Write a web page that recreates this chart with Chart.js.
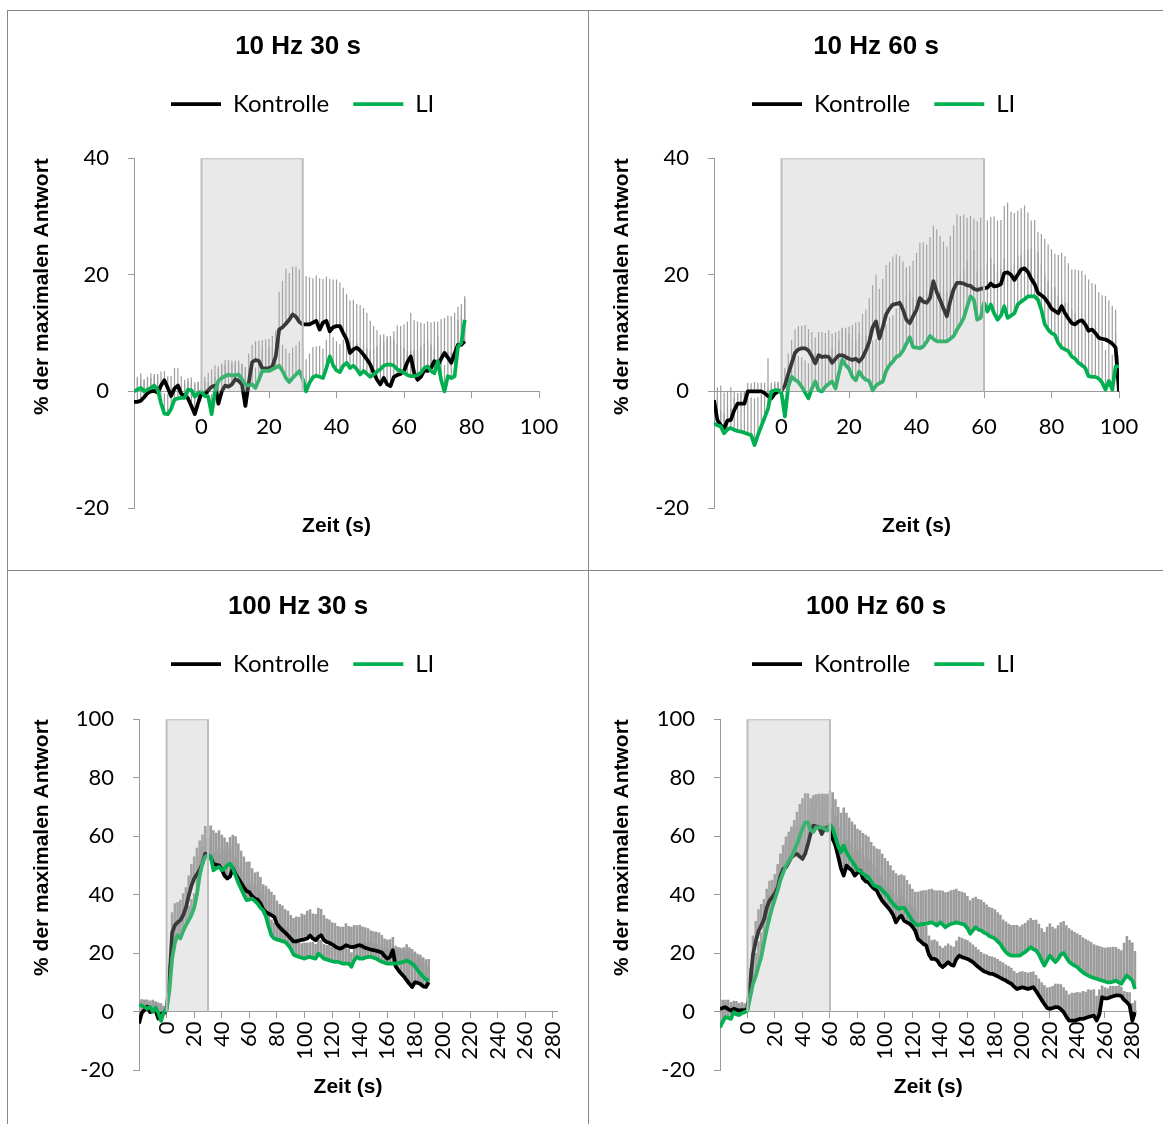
<!DOCTYPE html>
<html lang="de">
<head>
<meta charset="utf-8">
<title>Antwort Kontrolle vs. LI</title>
<script src="https://cdn.jsdelivr.net/npm/chart.js@4.4.1/dist/chart.umd.min.js"></script>
<style>
  html, body { margin: 0; padding: 0; background: #fff; }
  #sheet { position: relative; width: 1163px; height: 1124px; overflow: hidden; }
  .cell { position: absolute; border-left: 1px solid #878787; border-top: 1px solid #878787; }
  .cell canvas { display: block; }
</style>
</head>
<body>
<div id="sheet">
  <div class="cell" style="left:7px; top:10px;"><canvas id="hz10s30" width="580" height="559"></canvas></div>
  <div class="cell" style="left:588px; top:10px;"><canvas id="hz10s60" width="574" height="559"></canvas></div>
  <div class="cell" style="left:7px; top:570px;"><canvas id="hz100s30" width="580" height="553"></canvas></div>
  <div class="cell" style="left:588px; top:570px;"><canvas id="hz100s60" width="574" height="553"></canvas></div>
</div>
<script>
// ---- 10 Hz, 30 s (1 s bins from -20 s) ----
const t1Start = -20, t1Step = 1;
const stim1 = [0, 30];
const kon1 = [
  -1.8,-1.8,-1.6,-1.0,-0.3,0.0,0.1,-0.2,1.0,1.9,
  0.6,-0.8,0.5,1.0,-0.4,-0.8,-1.2,-2.5,-3.9,-2.0,
  -0.3,-0.5,0.2,0.8,1.0,-2.1,0.0,1.0,0.8,1.2,
  2.1,1.8,1.2,-2.5,1.5,5.0,5.4,5.2,4.0,3.9,
  4.0,4.3,6.0,10.6,11.0,11.6,12.3,13.2,12.8,11.9,
  11.5,11.5,11.5,11.8,12.1,10.6,11.8,12.1,10.3,11.0,
  11.2,11.2,10.0,8.9,6.6,7.2,7.5,7.0,6.3,5.5,
  4.6,3.2,2.0,1.2,2.3,1.2,0.9,2.5,2.8,3.0,
  3.5,5.0,6.0,3.2,2.0,2.5,3.6,3.5,4.0,5.2,
  4.4,5.6,6.6,5.8,4.9,6.5,8.0,8.0,8.6
];
const li1 = [
  0.0,0.3,0.6,0.0,0.3,0.6,1.0,0.3,-2.0,-3.8,
  -3.9,-3.0,-1.4,-1.2,-1.1,-1.1,0.3,0.2,-0.9,-0.3,
  0.0,-0.8,-0.9,-3.9,0.0,1.8,2.3,2.6,2.9,2.7,
  2.8,2.9,2.1,1.2,1.0,1.2,0.6,2.0,3.5,3.5,
  3.5,3.8,4.1,4.4,3.5,2.3,1.6,2.3,2.9,3.5,
  2.1,0.0,1.5,2.4,2.7,2.5,2.3,4.0,6.0,4.5,
  3.6,3.3,4.4,4.9,4.0,4.4,3.8,2.9,3.5,3.0,
  2.5,2.9,3.4,3.8,4.4,4.6,4.6,4.4,3.8,3.5,
  3.2,2.8,2.6,2.6,2.8,3.2,4.0,4.3,3.5,3.1,
  5.2,2.0,0.0,2.6,2.3,2.6,7.7,8.3,12.3
];
const konErr1 = [
  3.5,4.0,3.8,3.0,2.5,2.3,2.6,3.2,2.4,1.6,
  2.0,3.5,3.5,3.0,3.0,2.8,3.0,4.0,5.0,3.5,
  3.0,3.0,3.0,3.0,3.5,6.0,4.5,3.5,3.8,3.5,
  2.8,3.0,3.5,6.5,5.0,3.0,3.2,3.5,4.8,5.0,
  5.0,5.2,4.5,6.5,8.0,9.5,8.0,8.2,8.6,9.0,
  8.0,8.3,8.1,7.6,7.8,8.8,7.5,7.6,9.0,8.2,
  8.0,7.5,7.8,7.8,9.0,8.5,7.5,7.8,8.0,8.0,
  7.5,8.0,8.5,8.5,7.5,8.3,8.6,7.8,8.5,8.2,
  8.0,7.0,7.5,9.0,10.0,9.3,8.0,8.5,7.8,6.8,
  7.6,6.8,6.0,7.2,8.0,7.0,6.5,7.0,7.3
];
const liErr1 = [
  2.0,2.2,2.5,2.0,2.2,2.5,2.0,2.3,3.0,3.5,
  3.5,3.0,2.5,2.2,2.0,2.4,2.0,2.2,2.5,2.0,
  2.0,2.5,2.5,3.5,2.5,2.5,2.5,2.8,2.5,2.6,
  2.5,2.4,2.6,3.0,3.0,3.2,3.5,3.5,3.6,3.8,
  4.0,4.0,4.2,4.5,4.5,5.0,5.0,5.2,5.0,5.0,
  5.2,5.5,5.0,5.2,5.0,5.3,5.0,4.8,4.5,4.8,
  5.0,4.8,4.5,4.6,4.5,4.4,4.5,4.6,4.5,4.4,
  4.5,4.4,4.3,4.5,4.2,4.4,4.3,4.5,4.4,4.2,
  4.3,4.2,4.4,4.5,4.3,4.4,4.2,4.3,4.5,4.3,
  4.2,4.5,4.5,4.2,4.4,4.5,4.6,4.5,4.0
];

// ---- 10 Hz, 60 s (1 s bins from -20 s) ----
const t2Start = -20, t2Step = 1;
const stim2 = [0, 60];
const kon2 = [
  -1.5,-4.9,-5.8,-6.3,-5.0,-4.9,-3.2,-2.1,-2.1,-2.1,
  0.0,0.0,0.0,0.0,0.0,-0.3,-0.8,-1.2,-0.4,0.0,
  0.1,1.0,3.0,4.8,6.6,7.2,7.4,7.4,7.0,6.0,
  4.8,6.2,5.9,6.0,5.9,4.9,5.6,6.2,6.2,5.9,
  5.6,5.4,5.6,5.1,5.8,7.0,8.5,11.0,12.0,9.1,
  11.0,13.2,14.2,14.9,15.0,15.2,14.0,12.3,11.7,12.9,
  14.0,16.0,15.4,15.2,16.0,18.9,17.0,15.7,14.2,12.9,
  15.5,17.5,18.6,18.6,18.5,18.2,18.1,17.6,17.4,17.6,
  17.7,17.8,18.5,18.0,18.1,18.4,20.3,20.4,20.0,19.1,
  20.0,20.9,21.1,20.5,19.3,18.4,16.9,16.5,16.0,15.2,
  14.2,13.8,13.4,14.6,13.4,12.5,11.7,11.5,12.0,12.2,
  11.5,10.4,10.6,10.0,9.2,9.0,8.9,8.6,8.2,7.5,
  0.0
];
const li2 = [
  -5.5,-5.8,-6.0,-7.2,-6.5,-6.3,-6.6,-6.8,-6.9,-7.1,
  -7.3,-7.5,-9.2,-7.5,-6.0,-4.5,-3.0,0.0,0.2,0.2,
  -0.3,-4.3,0.8,2.5,2.0,1.6,0.8,-0.2,-1.2,0.5,
  1.7,0.2,0.0,0.8,1.3,1.7,0.5,3.1,5.4,4.5,
  3.9,2.5,1.9,3.4,2.5,2.0,1.8,0.2,1.0,1.4,
  1.7,3.5,4.5,5.1,5.9,6.2,7.0,8.2,9.3,7.6,
  7.5,7.4,7.7,8.5,9.5,9.0,8.6,8.6,8.6,8.6,
  9.0,9.5,10.6,11.5,12.6,14.5,16.3,15.7,12.3,12.6,
  15.2,13.7,14.9,13.4,12.3,13.0,14.6,12.6,13.0,13.4,
  14.9,15.4,15.8,16.3,16.3,16.3,15.7,14.0,11.5,10.6,
  10.0,9.7,8.3,7.5,7.2,6.9,6.0,5.6,4.9,4.5,
  4.0,2.6,2.5,2.5,2.2,1.5,0.3,1.8,0.3,4.3,
  4.3
];
const konErr2 = [
  1.5,2.0,2.5,2.5,2.0,2.0,2.0,1.8,1.8,2.0,
  1.5,1.4,1.6,1.5,1.5,1.8,6.5,2.0,1.6,1.5,
  2.5,3.0,3.5,4.0,4.0,4.0,3.8,4.0,3.7,4.2,
  4.5,4.0,4.3,4.0,4.6,5.0,4.5,4.2,4.6,5.0,
  5.5,6.0,6.2,6.8,7.5,7.0,7.5,7.2,8.0,8.5,
  8.3,8.5,8.0,8.2,8.5,8.0,8.3,9.0,9.8,9.5,
  9.8,9.5,10.2,10.0,10.5,9.5,10.8,11.0,11.5,12.0,
  11.2,11.0,11.8,11.5,11.8,11.6,12.0,12.0,11.8,12.2,
  12.0,11.5,11.4,12.0,11.2,11.0,11.5,12.0,10.8,11.5,
  11.0,10.5,10.8,10.2,10.0,11.0,10.5,10.5,10.2,10.0,
  10.2,9.8,10.0,9.2,9.8,9.5,9.2,9.4,8.8,8.5,
  8.5,8.8,8.0,8.4,7.8,7.5,7.5,7.0,6.5,6.5,
  1.0
];
const liErr2 = [
  6.0,6.5,7.0,7.0,6.5,7.0,6.5,6.5,7.0,7.0,
  7.0,6.5,8.0,6.5,5.5,4.5,3.5,1.5,1.5,1.5,
  1.5,3.0,3.5,3.5,4.0,4.5,5.0,5.5,6.0,5.5,
  5.0,5.5,6.0,5.8,5.5,5.6,6.5,5.8,5.5,5.7,
  6.0,6.5,6.8,6.5,7.0,7.5,7.8,8.5,8.0,8.2,
  8.5,8.0,8.2,8.0,8.3,8.2,8.0,8.2,8.0,8.5,
  8.5,8.7,8.5,8.6,8.4,8.5,8.6,8.5,8.7,8.5,
  8.4,8.6,8.2,8.5,8.3,8.0,8.2,8.5,8.4,8.0,
  8.0,8.2,8.0,8.4,8.2,8.0,8.3,8.2,8.0,8.5,
  8.2,8.0,8.3,8.0,8.2,8.0,8.2,8.0,8.5,8.3,
  8.0,8.2,8.0,8.3,8.0,8.2,8.0,7.8,8.0,7.6,
  7.5,7.8,7.4,7.0,7.2,7.0,6.8,6.5,6.0,5.5,
  2.0
];

// ---- 100 Hz, 30 s (2 s bins from -20 s) ----
const t3Start = -20, t3Step = 2;
const stim3 = [0, 30];
const kon3 = [
  -4.1,-0.5,0.5,1.6,-0.2,0.0,0.5,-2.4,-0.7,-0.7,
  0.8,10.0,27.0,29.5,30.5,31.2,33.0,35.5,39.5,43.0,
  45.5,47.0,48.5,50.6,54.0,53.5,52.6,50.5,50.2,50.0,
  48.5,46.5,45.5,46.2,49.0,47.0,45.5,44.0,42.5,41.2,
  40.8,39.5,38.6,38.3,37.0,35.0,34.0,33.5,33.0,32.4,
  30.0,28.8,27.8,27.0,26.0,25.0,24.0,24.0,24.3,24.5,
  24.7,25.0,26.0,25.0,24.4,25.5,26.1,24.5,23.8,23.5,
  23.0,22.3,21.8,21.5,22.0,22.7,22.3,22.0,22.1,22.5,
  22.7,22.3,21.8,21.5,21.2,21.0,20.8,20.5,20.2,19.0,
  18.1,18.7,21.0,15.5,14.1,13.0,12.0,10.7,9.5,8.4,
  10.0,9.8,9.4,8.6,8.4,10.0
];
const li3 = [
  2.2,2.0,1.5,1.0,1.6,0.0,1.3,-0.5,-3.2,0.0,
  0.5,7.0,18.0,23.5,26.1,25.0,27.5,29.5,31.2,33.0,
  35.5,40.0,46.5,50.6,52.9,53.4,53.0,48.3,49.0,49.5,
  48.3,48.9,50.0,50.6,49.0,46.5,44.0,42.0,40.0,38.1,
  38.3,38.6,37.8,36.9,35.5,34.6,32.5,29.0,26.0,25.0,
  24.6,24.4,24.0,23.8,22.8,21.5,19.5,19.0,18.7,18.4,
  18.1,18.5,18.7,18.3,18.1,19.8,19.0,18.1,17.8,17.5,
  17.2,17.0,17.0,16.7,16.4,16.4,16.4,15.3,17.5,18.7,
  18.1,18.1,18.4,18.7,18.7,18.4,18.1,17.5,17.0,16.7,
  16.4,16.4,16.4,16.5,16.6,16.8,17.0,17.5,17.0,16.4,
  15.5,14.1,13.0,11.9,11.0,10.7
];
const konErr3 = [
  5.0,4.5,3.5,2.5,4.0,4.0,3.0,5.5,3.5,2.5,
  2.0,6.0,7.0,7.5,7.0,7.0,7.5,7.0,7.0,7.5,
  7.5,9.0,10.0,10.0,9.5,10.0,11.0,11.5,11.0,12.0,
  12.0,13.0,12.5,13.5,11.5,13.0,12.0,11.0,10.5,10.0,
  10.5,9.5,9.0,9.5,9.0,8.5,9.0,8.5,8.0,7.5,
  8.0,8.0,8.5,8.0,8.5,8.0,8.0,8.5,8.0,9.0,
  8.5,9.5,9.0,8.5,9.0,10.0,9.0,8.5,8.0,8.0,
  7.5,8.0,7.5,7.5,7.0,7.5,7.0,7.0,7.5,7.0,
  7.0,6.8,7.0,7.0,6.5,6.5,6.5,6.5,6.0,6.0,
  6.5,6.0,4.5,7.0,7.5,8.5,9.5,10.5,11.5,11.5,
  10.0,10.0,10.0,10.0,9.5,8.0
];
const liErr3 = [
  2.0,2.2,2.5,2.0,2.0,2.5,2.0,3.0,2.5,2.0,
  1.5,4.0,5.0,5.5,5.0,5.5,5.0,5.5,5.0,5.5,
  5.0,6.0,6.5,6.0,6.5,6.0,6.5,6.0,6.0,6.5,
  6.0,6.5,6.0,6.0,6.5,6.0,5.5,6.0,5.5,5.5,
  5.5,6.0,5.5,5.5,6.0,5.5,5.5,5.0,5.5,5.5,
  5.0,5.5,5.0,5.0,5.5,5.0,5.0,5.5,5.0,5.0,
  5.5,5.0,5.0,5.5,5.0,5.0,5.5,5.0,5.0,5.5,
  5.0,5.0,5.5,5.0,5.0,5.5,5.0,5.0,5.5,5.0,
  5.0,5.5,5.0,5.0,5.5,5.0,5.0,5.5,5.0,5.0,
  5.0,5.5,5.0,5.0,5.5,5.0,5.0,5.5,5.0,5.0,
  5.0,5.0,5.5,5.0,5.0,4.5
];

// ---- 100 Hz, 60 s (2 s bins from -20 s) ----
const t4Start = -20, t4Step = 2;
const stim4 = [0, 60];
const kon4 = [
  0.9,1.2,1.5,0.8,0.3,0.9,0.6,0.3,0.5,0.3,
  1.0,10.0,19.5,24.0,27.5,29.4,31.5,35.5,37.9,39.1,
  40.5,42.5,46.5,48.8,49.3,51.0,52.8,53.5,53.9,53.0,
  52.2,54.0,57.3,61.0,63.6,63.3,63.0,60.7,62.5,63.0,
  62.4,59.0,56.8,53.0,49.0,46.5,49.9,49.0,48.2,46.5,
  47.5,48.2,45.5,44.5,44.2,43.0,42.0,41.4,39.5,37.9,
  36.8,35.7,34.5,33.0,30.5,32.0,32.8,31.0,30.5,30.0,
  29.0,27.7,24.8,24.0,23.1,22.6,19.5,18.0,18.0,17.5,
  16.0,15.2,16.0,16.9,16.0,15.7,18.0,19.1,18.6,18.3,
  18.0,17.5,16.9,16.0,15.2,14.5,13.8,13.4,13.0,12.9,
  12.5,12.0,11.5,11.0,10.6,10.0,9.5,8.5,7.7,8.0,
  8.3,8.0,7.7,8.0,8.3,7.0,5.5,4.0,2.6,1.2,
  0.9,1.2,1.5,1.5,0.8,-0.2,-1.8,-3.1,-3.1,-3.1,
  -2.8,-2.5,-2.5,-2.2,-1.9,-1.6,-1.4,-3.1,-1.0,4.9,
  4.5,4.5,4.9,5.2,5.5,5.5,5.3,4.0,3.2,2.1,
  -3.1,-0.2
];
const li4 = [
  -5.4,-3.5,-1.9,-2.2,-2.5,-0.2,-1.0,-1.2,-0.5,-0.2,
  0.3,5.0,9.5,12.0,15.5,18.6,23.5,28.0,32.0,35.5,
  38.5,41.5,45.0,47.5,49.9,51.5,52.8,55.0,57.3,60.0,
  62.5,64.7,64.7,62.0,61.5,63.0,63.0,63.0,62.5,61.9,
  64.0,62.5,59.6,56.5,54.5,56.8,54.5,52.8,51.5,50.0,
  48.5,48.0,47.1,46.5,45.9,44.5,43.1,42.8,42.5,41.5,
  40.5,39.5,38.0,36.8,35.8,35.1,35.5,35.5,34.0,32.5,
  31.0,30.0,29.5,29.8,30.0,30.0,30.3,30.5,30.0,29.4,
  30.5,29.8,28.8,29.5,30.0,30.2,30.5,30.2,30.0,29.6,
  28.5,26.6,27.8,28.8,28.0,27.7,27.0,26.6,25.8,25.4,
  25.0,24.0,23.1,21.5,20.3,19.5,19.1,19.1,19.1,19.1,
  19.8,20.3,21.2,22.0,21.3,20.9,19.5,17.5,15.7,17.5,
  19.1,18.0,16.9,18.0,19.5,20.0,18.5,17.0,16.3,15.7,
  15.2,14.2,13.4,12.8,12.3,11.8,11.5,11.2,10.9,10.6,
  10.3,10.0,10.0,10.2,10.6,10.0,9.5,11.0,12.3,11.5,
  10.6,7.7
];
const konErr4 = [
  3.0,2.8,2.5,3.2,3.0,2.8,3.0,2.6,2.8,2.5,
  2.0,5.0,6.5,7.0,7.5,7.4,7.0,6.5,6.8,6.0,
  6.5,7.0,7.5,8.0,8.5,9.0,9.5,10.0,10.5,11.0,
  11.5,11.0,11.5,11.0,10.5,11.0,11.5,11.0,11.0,11.5,
  11.0,10.5,10.0,10.0,9.5,9.0,9.0,8.5,8.5,8.0,
  8.0,8.2,8.0,7.8,7.9,7.5,7.6,7.5,7.4,7.2,
  7.2,7.0,7.1,7.0,6.9,7.0,7.0,6.8,6.9,6.8,
  6.8,6.9,6.5,6.6,6.5,6.7,6.5,6.4,6.6,6.5,
  6.5,6.6,6.5,6.4,6.6,6.5,6.3,6.5,6.6,6.5,
  6.5,6.2,6.0,6.1,6.0,5.9,6.0,6.1,6.0,5.9,
  6.0,6.0,5.8,5.8,5.5,5.6,5.5,5.4,5.5,5.6,
  5.5,5.5,5.6,5.5,5.4,5.5,5.8,6.0,6.5,7.0,
  7.5,7.5,8.0,8.0,8.5,8.5,9.0,9.0,9.5,9.5,
  9.5,9.0,9.5,9.0,9.5,9.0,9.0,8.5,8.5,4.0,
  3.8,3.5,3.8,3.5,3.2,3.5,3.2,3.0,3.5,4.5,
  6.0,4.0
];
const liErr4 = [
  5.5,4.0,3.5,3.5,3.5,2.5,3.0,3.0,2.5,2.5,
  2.0,5.0,7.0,8.0,8.5,8.5,8.5,8.0,8.0,8.5,
  8.5,9.0,9.0,9.5,10.0,10.0,10.5,10.5,11.0,11.0,
  10.5,10.0,10.0,11.0,11.5,11.0,11.0,11.5,12.0,12.0,
  11.5,12.5,13.0,13.5,13.5,13.0,13.5,13.5,13.5,14.0,
  14.0,14.0,14.0,14.0,14.0,13.5,13.5,13.0,13.0,12.5,
  12.0,12.0,12.0,11.5,11.5,11.5,11.5,11.0,11.0,11.0,
  11.0,11.0,11.5,11.5,11.5,11.5,11.5,11.5,11.5,12.0,
  11.0,11.5,12.0,11.5,11.5,11.5,11.5,11.0,11.0,11.0,
  11.0,11.5,11.0,10.5,10.5,10.5,10.5,10.0,10.0,10.0,
  10.0,10.0,10.0,10.0,10.5,10.5,10.5,10.5,10.5,10.0,
  10.0,10.0,10.0,10.0,10.0,10.5,10.5,11.0,11.5,11.5,
  11.0,11.0,11.5,11.5,11.0,11.0,11.0,11.5,11.5,11.5,
  11.5,12.0,12.0,12.0,12.0,12.0,11.5,11.5,11.5,11.5,
  11.5,12.0,12.0,12.0,11.5,11.5,11.5,12.5,13.5,13.0,
  13.0,13.0
];

const BLACK = '#000000';
const GREEN = '#00b050';
const AXIS = '#9a9a9a';
const ERR = '#9c9c9c';
const BOLD = "'Liberation Sans', Arial, sans-serif";

Chart.defaults.font.family = "Lato, 'Open Sans', sans-serif";
Chart.defaults.font.size = 22;
Chart.defaults.color = '#000';

function points(start, step, vals) {
  return vals.map((v, i) => ({ x: start + i * step, y: v }));
}

// upward error bars drawn as floating bars: [mean, mean + err]
function errorBars(start, step, vals, errs) {
  return vals.map((v, i) => ({ x: start + i * step, y: [v, v + errs[i]] }));
}

// stimulus window, filled down to 0
function stimBox(range, top) {
  return [
    { x: range[0], y: 0 }, { x: range[0], y: top },
    { x: range[1], y: top }, { x: range[1], y: 0 }
  ];
}

// title centred on the whole canvas, legend at a fixed x with extra room below it
const headerPlacement = {
  id: 'headerPlacement',
  beforeLayout(chart, args, opts) {
    const lg = chart.legend;
    if (lg && !lg._extraGap) {
      const fit = lg.fit;
      lg.fit = function () { fit.call(this); this.height += opts.gap; };
      lg._extraGap = true;
    }
  },
  afterLayout(chart, args, opts) {
    const lg = chart.legend;
    lg.left = opts.x - lg.options.labels.padding;
    lg.right = chart.width;
    const tb = chart.titleBlock;
    if (tb) {
      tb.left = 0;
      tb.right = chart.width;
      tb.width = chart.width;
    }
  }
};

function makePanel(id, p) {
  const axisTitleFont = { family: BOLD, size: 21, weight: 'bold' };
  return new Chart(document.getElementById(id), {
    type: 'line',
    data: {
      datasets: [
        { label: 'Kontrolle', data: points(p.start, p.step, p.kon), borderColor: BLACK, backgroundColor: BLACK,
          borderWidth: 3.75, borderJoinStyle: 'round', pointRadius: 0, order: 2 },
        { label: 'LI', data: points(p.start, p.step, p.li), borderColor: GREEN, backgroundColor: GREEN,
          borderWidth: 3.75, borderJoinStyle: 'round', pointRadius: 0, order: 1 },
        { label: 'Reiz', data: stimBox(p.stim, p.yMax), fill: 'origin', backgroundColor: 'rgba(185,185,185,0.31)',
          borderColor: '#bdbdbd', borderWidth: 2, pointRadius: 0, order: 0 },
        { type: 'bar', label: 'SEM Kontrolle', data: errorBars(p.start, p.step, p.kon, p.konErr),
          backgroundColor: ERR, barThickness: p.barWidth, grouped: false, inflateAmount: 0, order: 3 },
        { type: 'bar', label: 'SEM LI', data: errorBars(p.start, p.step, p.li, p.liErr),
          backgroundColor: ERR, barThickness: p.barWidth, grouped: false, inflateAmount: 0, order: 3 }
      ]
    },
    options: {
      responsive: false,
      animation: false,
      events: [],
      layout: { padding: { top: 0, left: 0, right: p.padRight, bottom: p.padBottom } },
      plugins: {
        title: {
          display: true, text: p.title, color: '#000',
          font: { family: BOLD, size: 26, weight: 'bold' },
          padding: { top: 20, bottom: 6 }
        },
        legend: {
          position: 'top', align: 'start',
          labels: {
            usePointStyle: true, pointStyle: 'line', pointStyleWidth: 50,
            padding: 24, color: '#000', font: { size: 24 },
            filter: item => item.datasetIndex < 2,
            sort: (a, b) => a.datasetIndex - b.datasetIndex
          }
        },
        tooltip: { enabled: false },
        headerPlacement: { gap: p.legendGap, x: 163 }
      },
      scales: {
        x: {
          type: 'linear',
          position: { y: 0 },
          min: -20, max: p.xMax,
          offset: false,
          border: { color: AXIS, width: 1 },
          grid: { drawOnChartArea: false, drawTicks: true, tickLength: 6, color: AXIS, offset: false },
          ticks: {
            stepSize: 20, includeBounds: false, autoSkip: false,
            padding: p.xTickPad, minRotation: p.rot, maxRotation: p.rot,
            callback: v => (v === -20 ? '' : v)
          },
          title: { display: true, text: 'Zeit (s)', color: '#000', font: axisTitleFont,
                   padding: { top: p.xTitlePad, bottom: 0 } }
        },
        y: {
          type: 'linear',
          position: 'left',
          min: -20, max: p.yMax,
          border: { color: AXIS, width: 1 },
          grid: { drawOnChartArea: false, tickLength: 6, color: AXIS },
          ticks: { stepSize: 20, padding: 19 },
          title: { display: true, text: '% der maximalen Antwort', color: '#000', font: axisTitleFont,
                   align: 'end', padding: { top: p.yTitlePad, bottom: 0 } },
          afterFit: s => { s.width = p.yAxisWidth; }
        }
      }
    },
    plugins: [headerPlacement]
  });
}

makePanel('hz10s30', {
  title: '10 Hz 30 s', start: t1Start, step: t1Step, stim: stim1,
  kon: kon1, li: li1, konErr: konErr1, liErr: liErr1,
  yMax: 40, xMax: 100, rot: 0, xTickPad: 16, xTitlePad: 58, barWidth: 1.2,
  yAxisWidth: 126, yTitlePad: 22, padRight: 49, padBottom: 62, legendGap: 32
});
makePanel('hz10s60', {
  title: '10 Hz 60 s', start: t2Start, step: t2Step, stim: stim2,
  kon: kon2, li: li2, konErr: konErr2, liErr: liErr2,
  yMax: 40, xMax: 100, rot: 0, xTickPad: 16, xTitlePad: 58, barWidth: 1.2,
  yAxisWidth: 125, yTitlePad: 21, padRight: 44, padBottom: 62, legendGap: 32
});
makePanel('hz100s30', {
  title: '100 Hz 30 s', start: t3Start, step: t3Step, stim: stim3,
  kon: kon3, li: li3, konErr: konErr3, liErr: liErr3,
  yMax: 100, xMax: 283, rot: 90, xTickPad: 4, xTitlePad: 11, barWidth: 2.6,
  yAxisWidth: 131, yTitlePad: 22, padRight: 31, padBottom: 54, legendGap: 33
});
makePanel('hz100s60', {
  title: '100 Hz 60 s', start: t4Start, step: t4Step, stim: stim4,
  kon: kon4, li: li4, konErr: konErr4, liErr: liErr4,
  yMax: 100, xMax: 283, rot: 90, xTickPad: 4, xTitlePad: 11, barWidth: 2.6,
  yAxisWidth: 131, yTitlePad: 21, padRight: 26, padBottom: 54, legendGap: 33
});
</script>
</body>
</html>
